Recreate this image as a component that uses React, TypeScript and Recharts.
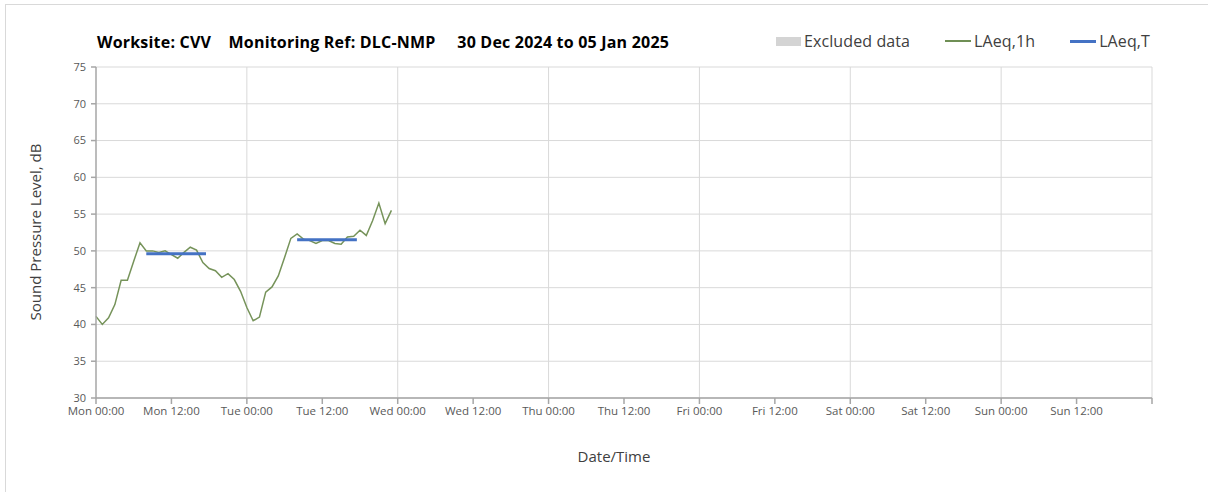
import { LineChart, Line, XAxis, YAxis, CartesianGrid, ReferenceLine, Legend } from "recharts";

// hourly LAeq,1h from Mon 00:00 (30 Dec 2024)
const laeq1h = [
  41.1, 40.0, 40.9, 42.7, 46.0, 46.0, 48.6, 51.1, 50.0, 50.0, 49.8, 50.0,
  49.5, 49.0, 49.8, 50.5, 50.1, 48.4, 47.6, 47.3, 46.4, 46.9, 46.1, 44.5,
  42.3, 40.5, 41.0, 44.4, 45.1, 46.6, 49.1, 51.7, 52.3, 51.6, 51.4, 51.0,
  51.4, 51.4, 51.0, 50.9, 51.9, 52.0, 52.8, 52.1, 54.1, 56.5, 53.7, 55.5,
];

// LAeq,T daytime periods (hours from Mon 00:00), null breaks the line
const laeqTHours = [8, 17.5, 24, 32, 41.5];
const laeqTValues = [49.6, 49.6, null, 51.5, 51.5];

const xTicks = [0, 12, 24, 36, 48, 60, 72, 84, 96, 108, 120, 132, 144, 156, 168];
const xTickLabels = [
  "Mon 00:00", "Mon 12:00", "Tue 00:00", "Tue 12:00", "Wed 00:00", "Wed 12:00",
  "Thu 00:00", "Thu 12:00", "Fri 00:00", "Fri 12:00", "Sat 00:00", "Sat 12:00",
  "Sun 00:00", "Sun 12:00", "",
];
const yTicks = [30, 35, 40, 45, 50, 55, 60, 65, 70, 75];
const dayLines = [24, 48, 72, 96, 120, 144, 168];

const legendItems = [
  { name: "Excluded data", kind: "rect", color: "#d4d4d4" },
  { name: "LAeq,1h", kind: "thin", color: "#6f8f55" },
  { name: "LAeq,T", kind: "thick", color: "#4472c4" },
];

const font = "'Open Sans', sans-serif";

export default function App() {
  const hourlyData = laeq1h.map((v, i) => ({ t: i, v }));
  const periodData = laeqTHours.map((t, i) => ({ t, v: laeqTValues[i] }));

  const renderLegend = () => (
    <div style={{ display: "flex", alignItems: "center", fontFamily: font, fontSize: 16, letterSpacing: 0.1, color: "#404040" }}>
      {legendItems.map((item) => (
        <div key={item.name} style={{ display: "flex", alignItems: "center", marginRight: 35 }}>
          {item.kind === "rect" ? (
            <span style={{ width: 25, height: 9, background: item.color, marginRight: 3 }} />
          ) : (
            <span style={{ width: 26, height: item.kind === "thick" ? 3 : 2, background: item.color, marginRight: 3 }} />
          )}
          <span>{item.name}</span>
        </div>
      ))}
    </div>
  );

  return (
    <div style={{ position: "absolute", left: 0, top: 0, width: 1208, height: 492, overflow: "hidden", background: "#fff" }}>
      <div style={{ position: "absolute", left: 5, top: 4, width: 1203, height: 488, borderLeft: "1px solid #d9d9d9", borderTop: "1px solid #d9d9d9" }} />
      <div style={{ position: "absolute", left: 97, top: 31, fontFamily: font, fontWeight: 700, fontSize: 16, letterSpacing: 0.2, color: "#000", whiteSpace: "pre" }}>
        {"Worksite: CVV    Monitoring Ref: DLC-NMP     30 Dec 2024 to 05 Jan 2025"}
      </div>
      <div style={{ position: "absolute", left: 0, top: 0 }}>
        <LineChart width={1208} height={492} margin={{ top: 67, right: 56, bottom: 64, left: 0 }}>
          <CartesianGrid vertical={false} stroke="#d9d9d9" />
          {dayLines.map((d) => (
            <ReferenceLine key={d} x={d} stroke="#d9d9d9" ifOverflow="extendDomain" />
          ))}
          <XAxis
            type="number"
            dataKey="t"
            domain={[0, 168]}
            ticks={xTicks}
            tickFormatter={(t: number) => xTickLabels[xTicks.indexOf(t)]}
            height={30}
            interval={0}
            stroke="#a6a6a6"
            strokeWidth={1.5}
            tickSize={6}
            tickMargin={3}
            tick={{ fill: "#595959", fontSize: 11.5, fontFamily: font }}
          />
          <YAxis
            type="number"
            domain={[30, 75]}
            ticks={yTicks}
            width={96}
            interval={0}
            stroke="#a6a6a6"
            strokeWidth={1.5}
            tickSize={5}
            tickMargin={5}
            tick={{ fill: "#595959", fontSize: 11, fontFamily: font }}
          />
          <Legend
            layout="horizontal"
            verticalAlign="middle"
            align="center"
            content={renderLegend}
            wrapperStyle={{ top: 30, left: 776, width: 430, height: 22 }}
          />
          <Line
            data={hourlyData}
            dataKey="v"
            name="LAeq,1h"
            stroke="#76935a"
            strokeWidth={1.5}
            dot={false}
            isAnimationActive={false}
          />
          <Line
            data={periodData}
            dataKey="v"
            name="LAeq,T"
            stroke="#4472c4"
            strokeWidth={3}
            dot={false}
            isAnimationActive={false}
          />
        </LineChart>
      </div>
      <div style={{ position: "absolute", left: 35, top: 232, transform: "translate(-50%, -50%) rotate(-90deg)", fontFamily: font, fontSize: 15, color: "#404040", whiteSpace: "nowrap" }}>
        Sound Pressure Level, dB
      </div>
      <div style={{ position: "absolute", left: 614, top: 456, transform: "translate(-50%, -50%)", fontFamily: font, fontSize: 15, color: "#404040", whiteSpace: "nowrap" }}>
        Date/Time
      </div>
    </div>
  );
}
